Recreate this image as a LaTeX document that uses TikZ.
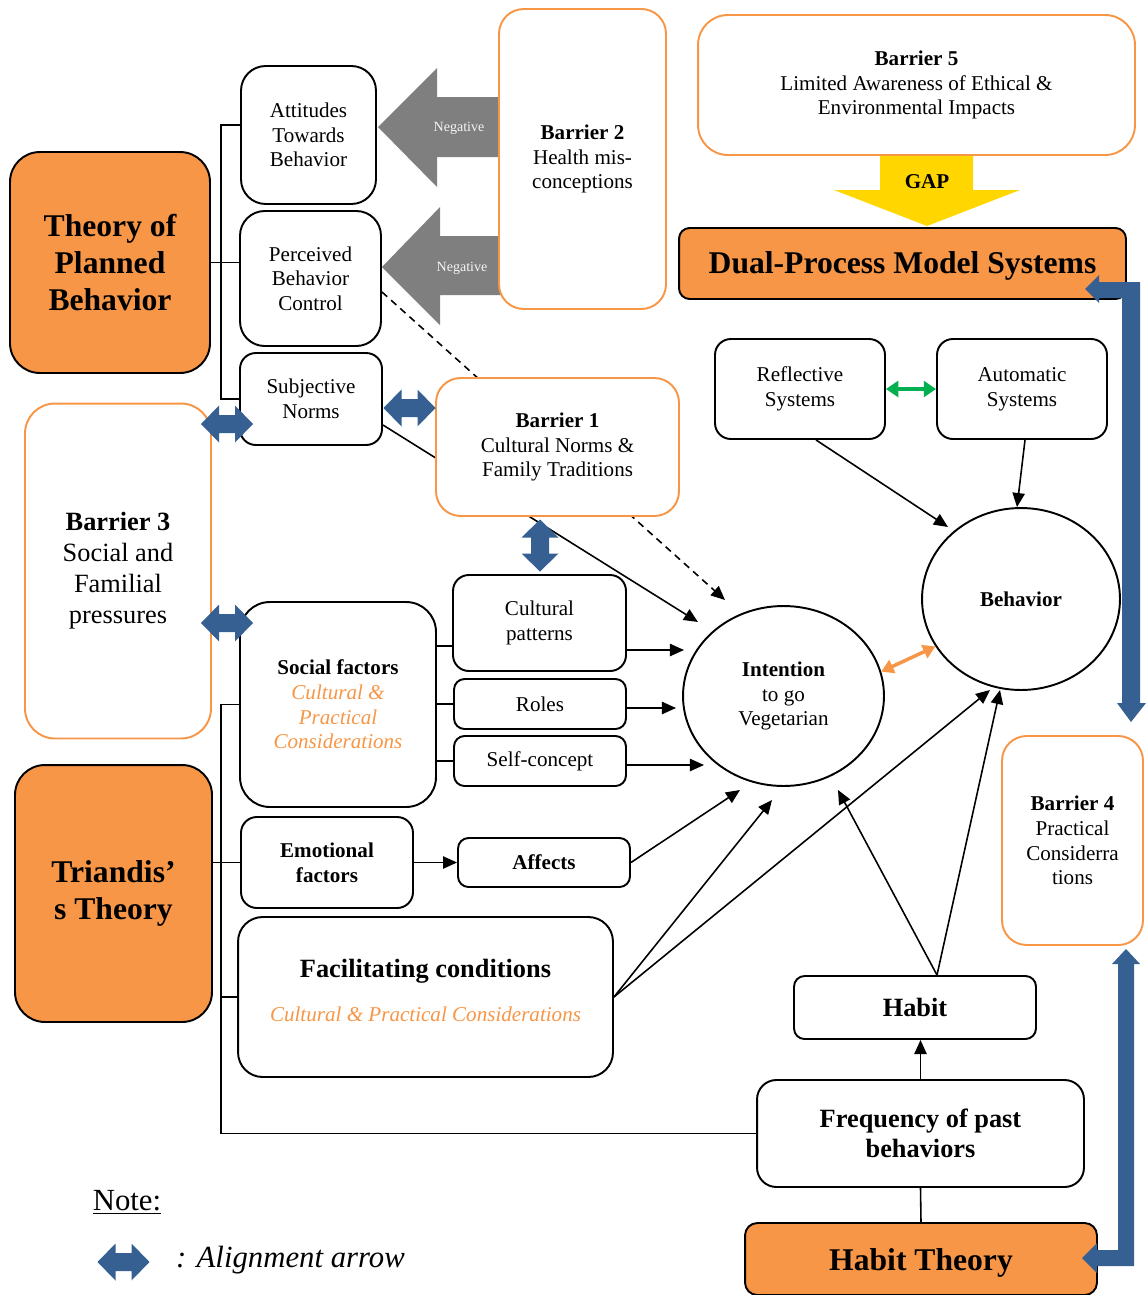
\documentclass[tikz,border=0pt]{standalone}
\usepackage{fontspec}
\setmainfont{Liberation Serif}
\usepackage{tikz}
\usetikzlibrary{positioning,arrows.meta,shapes.geometric,calc}

\definecolor{theoryorange}{HTML}{F79646}
\definecolor{alignblue}{HTML}{376092}
\definecolor{neggray}{HTML}{7F7F7F}
\definecolor{gapyellow}{HTML}{FFD600}
\definecolor{linkgreen}{HTML}{00B050}

\newcommand{\consid}[1]{\textcolor{theoryorange}{\itshape #1}}

\tikzset{
  box/.style={draw, line width=1.1pt, rounded corners=8pt, align=center, inner sep=0pt, fill=white, font=\fontsize{12}{14}\selectfont},
  theory/.style={box, fill=theoryorange, font=\fontsize{18}{21.3}\selectfont\bfseries},
  barrier/.style={box, draw=theoryorange},
  oval/.style={ellipse, draw, line width=1.1pt, align=center, inner sep=0pt, fill=white, font=\fontsize{12}{14}\selectfont},
  link/.style={line width=0.9pt},
  arr/.style={link, -{Triangle[length=8pt,width=7pt]}},
  alignpic/.pic={\fill[alignblue] (-26,0) -- (-8,-18.5) -- (-8,-9) -- (8,-9) -- (8,-18.5) -- (26,0) -- (8,18.5) -- (8,9) -- (-8,9) -- (-8,18.5) -- cycle;},
  negtext/.style={font=\fontsize{8}{9}\selectfont, text=white!92!gray}
}

\begin{document}
\begin{tikzpicture}[x=0.02cm, y=-0.02cm]
\useasboundingbox (0,0) rectangle (1146,1295);

% Negative arrows (behind Barrier 2)
\fill[neggray] (378,127) -- (437,68) -- (437,97) -- (510,97) -- (510,157) -- (437,157) -- (437,187) -- cycle;
\fill[neggray] (382,267) -- (440,207) -- (440,236) -- (510,236) -- (510,295) -- (440,295) -- (440,325) -- cycle;
% GAP arrow
\fill[gapyellow] (880,153) -- (973,153) -- (973,190) -- (1020,190) -- (927,226) -- (834,190) -- (880,190) -- cycle;

% Theories
\node[theory, minimum width=4cm, minimum height=4.42cm, rounded corners=17pt] (tpb) at (110,262.5) {Theory of\\Planned\\Behavior};
\node[theory, minimum width=3.94cm, minimum height=5.14cm, rounded corners=17pt, font=\fontsize{18}{21.5}\selectfont\bfseries] (tri) at (113.5,893.5) {Triandis’\\s Theory};
\node[theory, minimum width=8.94cm, minimum height=1.42cm, rounded corners=6pt, text height=15pt] (dual) at (902.5,263.5) {Dual-Process Model Systems};
\node[theory, minimum width=7.04cm, minimum height=1.44cm, rounded corners=7pt, text height=17pt] (ht) at (921,1259) {Habit Theory};

% Theory of Planned Behavior
\node[box, minimum width=2.7cm, minimum height=2.76cm, rounded corners=14pt] (att) at (308.5,135) {Attitudes\\Towards\\Behavior};
\node[box, minimum width=2.82cm, minimum height=2.7cm, rounded corners=14pt] (pbc) at (310.5,278.5) {Perceived\\Behavior\\Control};
\node[box, minimum width=2.84cm, minimum height=1.84cm, rounded corners=9pt] (sn) at (311,399) {Subjective\\Norms};

% Barriers
\node[barrier, minimum width=3.34cm, minimum height=6cm, rounded corners=14pt] (bar2) at (582.5,159) {\textbf{Barrier 2}\\Health mis-\\conceptions};
\node[barrier, minimum width=8.74cm, minimum height=2.8cm, rounded corners=17pt] (bar5) at (916.5,85) {\textbf{Barrier 5}\\Limited Awareness of Ethical \&\\Environmental Impacts};
\node[barrier, minimum width=3.72cm, minimum height=6.7cm, rounded corners=17pt, font=\fontsize{15}{17.6}\selectfont] (bar3) at (118,571) {\textbf{Barrier 3}\\Social and\\Familial\\pressures};
\node[barrier, minimum width=2.82cm, minimum height=4.18cm, rounded corners=14pt] (bar4) at (1072.5,840.5) {\textbf{Barrier 4}\\Practical\\Considerra\\tions};

% Dual-Process Model
\node[box, minimum width=3.4cm, minimum height=2cm, rounded corners=9pt] (refl) at (800,389) {Reflective\\Systems};
\node[box, minimum width=3.4cm, minimum height=2cm, rounded corners=9pt] (autom) at (1022,389) {Automatic\\Systems};
\node[oval, minimum width=3.96cm, minimum height=3.64cm] (beh) at (1021,599) {\textbf{Behavior}};
\node[oval, minimum width=4.02cm, minimum height=3.6cm] (int) at (783.5,696) {\textbf{Intention}\\to go\\Vegetarian};

% Triandis
\node[box, minimum width=3.92cm, minimum height=4.1cm, rounded corners=17pt] (soc) at (338,704.5) {\textbf{Social factors}\\\consid{Cultural \&}\\\consid{Practical}\\\consid{Considerations}};
\node[box, minimum width=3.46cm, minimum height=1.92cm, rounded corners=9pt] (cp) at (539.5,623) {Cultural\\patterns};
\node[box, minimum width=3.44cm, minimum height=1cm, rounded corners=6pt] (roles) at (540,704) {Roles};
\node[box, minimum width=3.44cm, minimum height=1cm, rounded corners=6pt] (self) at (540,761) {Self-concept};
\node[box, minimum width=3.44cm, minimum height=1.82cm, rounded corners=9pt, font=\fontsize{12}{14}\selectfont\bfseries] (emo) at (327,862.5) {Emotional\\factors};
\node[box, minimum width=3.44cm, minimum height=0.98cm, rounded corners=6pt, font=\fontsize{12}{14}\selectfont\bfseries] (aff) at (544,862.5) {Affects};
\node[box, minimum width=7.5cm, minimum height=3.2cm, rounded corners=14pt, font=\fontsize{15}{17}\selectfont\bfseries, text depth=8pt] (fac) at (425.5,997) {Facilitating conditions\\[8pt]{\fontsize{12}{14}\selectfont\mdseries\consid{Cultural \& Practical Considerations}}};

% Habit
\node[box, minimum width=4.84cm, minimum height=1.26cm, rounded corners=6pt, font=\fontsize{15}{17}\selectfont\bfseries] (habit) at (915,1007.5) {Habit};
\node[box, minimum width=6.54cm, minimum height=2.14cm, rounded corners=11pt, font=\fontsize{15}{17}\selectfont\bfseries] (freq) at (920.5,1133.5) {Frequency of past\\behaviors};

% Arrow tips round Intention and Behavior
\coordinate (inA) at (684,650);
\coordinate (inB) at (676,708);
\coordinate (inC) at (704,765);
\coordinate (inD) at (740,790);
\coordinate (inE) at (772,800);
\coordinate (inF) at (838,790);
\coordinate (inG) at (725,600);
\coordinate (inH) at (698,622);
\coordinate (beA) at (948,527);
\coordinate (beB) at (990,690);
\coordinate (beC) at (1000,690);
\coordinate (trunk) at (221,0);

% Lines behind Barrier 1
\draw[arr, dash pattern=on 4pt off 3pt] ([yshift=-0.27cm]pbc.east) -- (inG);
\draw[arr] ([yshift=-0.52cm]sn.east) -- (inH);

\node[barrier, minimum width=4.86cm, minimum height=2.76cm, rounded corners=14pt] (bar1) at (557.5,447) {\textbf{Barrier 1}\\Cultural Norms \&\\Family Traditions};

% Brackets
\draw[link] ([yshift=0.2cm]att.west) -- ([yshift=0.2cm]att.west -| trunk) -- (sn.west -| trunk) -- (sn.west);
\draw[link] (tpb.east) -- (tpb.east -| pbc.west);
\draw[link] (soc.west) -- (soc.west -| trunk) -- (freq.west -| trunk) -- (freq.west);
\draw[link] (tri.east |- emo.west) -- (emo.west);
\draw[link] (fac.west -| trunk) -- (fac.west);
\draw[link] ([yshift=-0.46cm]cp.west -| soc.east) -- ([yshift=-0.46cm]cp.west);
\draw[link] (roles.west -| soc.east) -- (roles.west);
\draw[link] (self.west -| soc.east) -- (self.west);

% Into Intention
\draw[arr] (inA -| cp.east) -- (inA);
\draw[arr] (inB -| roles.east) -- (inB);
\draw[arr] (inC -| self.east) -- (inC);
\draw[arr] (emo.east) -- (aff.west);
\draw[arr] (aff.east) -- (inD);
\draw[arr] (fac.east) -- (inE);
\draw[arr] ([xshift=0.44cm]habit.north) -- (inF);

% Into Behavior
\draw[arr] ([xshift=0.32cm]refl.south) -- (beA);
\draw[arr] ([xshift=0.06cm]autom.south) -- ([xshift=-0.08cm]beh.north);
\draw[arr] (fac.east) -- (beB);
\draw[arr] ([xshift=0.44cm]habit.north) -- (beC);
\draw[arr] (freq.north) -- (freq.north |- habit.south);
\draw[link] (freq.south) -- (ht.north);

\draw[linkgreen, line width=2.2pt, {Triangle[length=7pt,width=9pt]}-{Triangle[length=7pt,width=9pt]}] (refl.east) -- (autom.west);
\draw[theoryorange, line width=2pt, {Triangle[length=7pt,width=8pt]}-{Triangle[length=7pt,width=8pt]}] (int.14) -- (beh.209);

% Alignment arrows
\pic (al1) at (409.5,408) {alignpic};
\pic (al2) at (227,424) {alignpic};
\pic[rotate=90] (al3) at (540,545.5) {alignpic};
\pic (al4) at (227,623) {alignpic};
\fill[alignblue] (1085,289) -- (1099,275) -- (1099,282) -- (1140,282) -- (1140,703) -- (1146,703) -- (1131,722) -- (1117,703) -- (1122,703) -- (1122,298) -- (1099,298) -- (1099,303) -- cycle;
\fill[alignblue] (1082,1258) -- (1097,1243) -- (1097,1250) -- (1118,1250) -- (1118,964) -- (1112,964) -- (1126,949) -- (1140,964) -- (1134,964) -- (1134,1266) -- (1097,1266) -- (1097,1273) -- cycle;

% Labels
\node[negtext] (neg1) at (459,128) {Negative};
\node[negtext] (neg2) at (462,268) {Negative};
\node[font=\fontsize{12}{14}\selectfont\bfseries] (gap) at (927,182) {GAP};

% Note
\node[font=\fontsize{17.5}{20}\selectfont] (note) at (127,1202) {\underline{Note:}};
\pic (al5) at (123.5,1262) {alignpic};
\node[font=\fontsize{17.5}{20}\selectfont\itshape, anchor=west] (legend) at (170,1260) {: Alignment arrow};
\end{tikzpicture}
\end{document}
